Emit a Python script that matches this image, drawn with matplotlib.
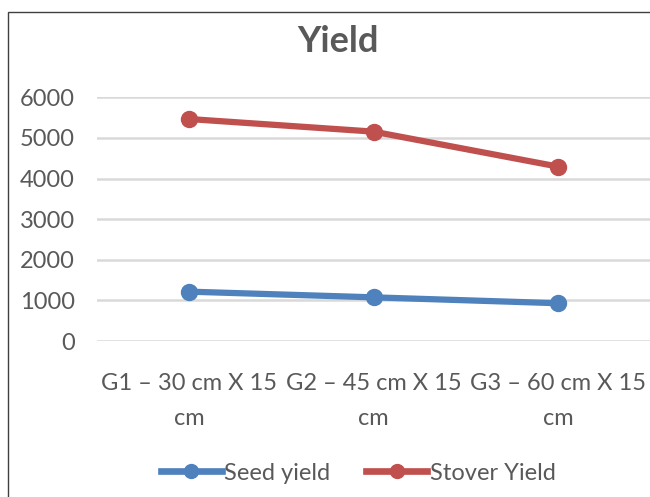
import matplotlib.pyplot as plt
from matplotlib.patches import Rectangle
from matplotlib.lines import Line2D

categories = ["G1 \u2013 30 cm X 15\ncm", "G2 \u2013 45 cm X 15\ncm", "G3 \u2013 60 cm X 15\ncm"]
seed_yield = [1215, 1075, 930]
stover_yield = [5465, 5155, 4295]
yticks = [0, 1000, 2000, 3000, 4000, 5000, 6000]

plt.rcParams["font.family"] = ["Lato", "DejaVu Sans"]
blue = "#4f81bd"
red = "#c0504d"
grey = "#595959"

fig = plt.figure(figsize=(6.5, 4.97), dpi=100)
fig.patches.append(Rectangle((8 / 650, -0.1), 1.2, 1 - 12 / 497 + 0.1,
                             transform=fig.transFigure, fill=False,
                             edgecolor="#404040", linewidth=1))

ax = fig.add_axes([97 / 650, 1 - 341 / 497, 1 - 97 / 650, (341 - 97.3) / 497])
x = range(len(categories))
ax.plot(x, seed_yield, color=blue, lw=4.5, marker="o", ms=11.5, clip_on=False, zorder=3)
ax.plot(x, stover_yield, color=red, lw=4.5, marker="o", ms=11.5, clip_on=False, zorder=3)

ax.set_xlim(-0.5, len(categories) - 0.5)
ax.set_ylim(0, 6000)
ax.set_yticks(yticks)
ax.set_yticklabels([str(v) for v in yticks], fontsize=17, color=grey)
ax.set_xticks(list(x))
ax.set_xticklabels(categories, fontsize=17, color=grey, linespacing=1.8)
ax.tick_params(length=0)
ax.tick_params(axis="y", pad=16)
ax.tick_params(axis="x", pad=23)
ax.grid(axis="y", color="#d9d9d9", lw=1.8)
ax.set_axisbelow(True)
for s in ax.spines.values():
    s.set_visible(False)

fig.text(338 / 650, 1 - 41 / 497, "Yield", ha="center", va="center",
         fontsize=26, fontweight="bold", color=grey)

handles = [Line2D([], [], color=blue, lw=4.8, marker="o", ms=10),
           Line2D([], [], color=red, lw=4.8, marker="o", ms=10)]
fig.legend(handles, ["Seed yield", "Stover Yield"], loc="center",
           bbox_to_anchor=(358 / 650, 1 - 473 / 497), ncol=2, frameon=False,
           fontsize=17, labelcolor=grey, handlelength=2.6, handletextpad=0.1,
           columnspacing=1.5)

fig.savefig("out.png", dpi=100)
